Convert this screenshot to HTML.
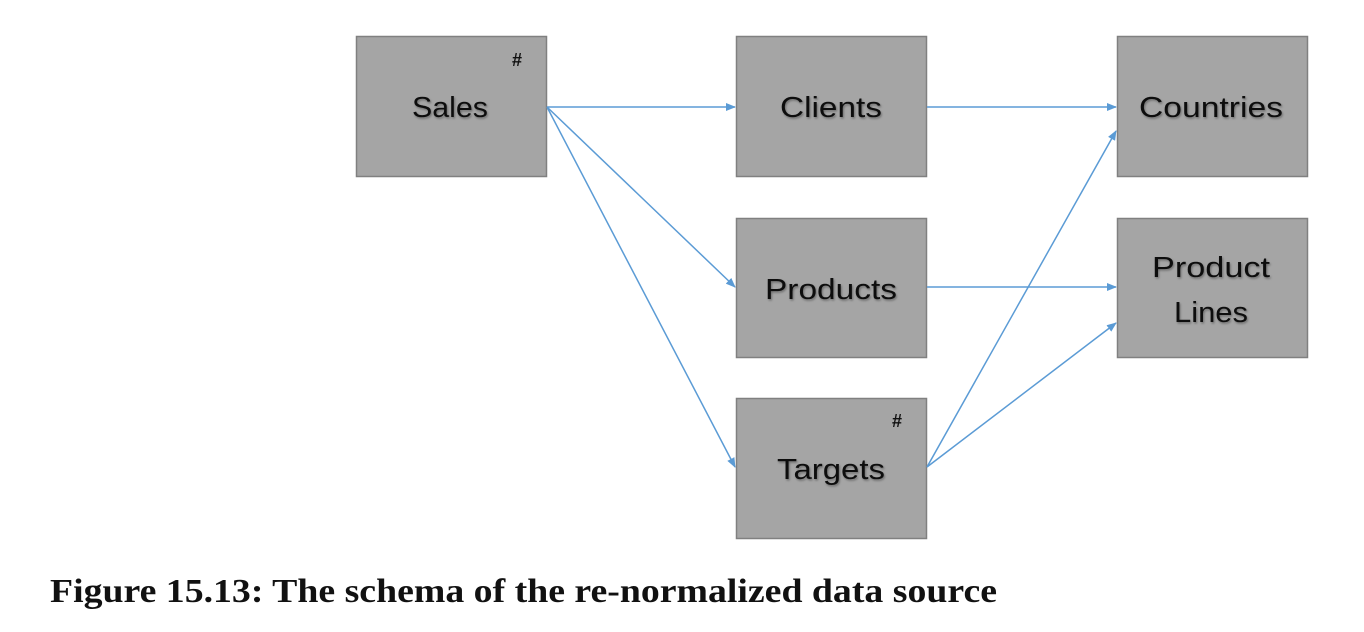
<!DOCTYPE html>
<html><head><meta charset="utf-8"><style>
html,body{margin:0;padding:0;background:#fff;width:1364px;height:632px;overflow:hidden}
</style></head><body>
<svg width="1364" height="632" xmlns="http://www.w3.org/2000/svg">
<defs>
<marker id="a" markerWidth="10" markerHeight="8" refX="9" refY="4" orient="auto" markerUnits="userSpaceOnUse">
<path d="M0,0 L10,4 L0,8 z" fill="#5b9bd5"/></marker>
<filter id="s"><feDropShadow dx="1" dy="1.5" stdDeviation="1" flood-color="#000" flood-opacity="0.35"/></filter>
</defs>
<g fill="#a5a5a5" stroke="#808080" stroke-width="1.5">
<rect x="356.5" y="36.5" width="190" height="140"/>
<rect x="736.5" y="36.5" width="190" height="140"/>
<rect x="1117.5" y="36.5" width="190" height="140"/>
<rect x="736.5" y="218.5" width="190" height="139"/>
<rect x="1117.5" y="218.5" width="190" height="139"/>
<rect x="736.5" y="398.5" width="190" height="140"/>
</g>
<g stroke="#5b9bd5" stroke-width="1.5" fill="none" marker-end="url(#a)">
<line x1="547" y1="107" x2="735" y2="107"/>
<line x1="547" y1="107" x2="735" y2="287"/>
<line x1="547" y1="107" x2="735" y2="467"/>
<line x1="927" y1="107" x2="1116" y2="107"/>
<line x1="927" y1="287" x2="1116" y2="287"/>
<line x1="927" y1="467" x2="1116" y2="131"/>
<line x1="927" y1="467" x2="1116" y2="323"/>
</g>
<g font-family="Liberation Sans, sans-serif" font-size="29" fill="#111" text-anchor="middle" filter="url(#s)">
<text x="450" y="117" textLength="76" lengthAdjust="spacingAndGlyphs">Sales</text>
<text x="831" y="117" textLength="102" lengthAdjust="spacingAndGlyphs">Clients</text>
<text x="1211" y="117" textLength="144" lengthAdjust="spacingAndGlyphs">Countries</text>
<text x="831" y="299" textLength="132" lengthAdjust="spacingAndGlyphs">Products</text>
<text x="1211" y="277" textLength="118" lengthAdjust="spacingAndGlyphs">Product</text>
<text x="1211" y="322" textLength="74" lengthAdjust="spacingAndGlyphs">Lines</text>
<text x="831" y="479" textLength="108" lengthAdjust="spacingAndGlyphs">Targets</text>
</g>
<g font-family="Liberation Sans, sans-serif" font-size="18" font-weight="bold" fill="#111" text-anchor="middle">
<text x="517" y="66">#</text>
<text x="897" y="427">#</text>
</g>
<text x="50" y="602" font-family="Liberation Serif, serif" font-weight="bold" font-size="34" fill="#111" textLength="947" lengthAdjust="spacingAndGlyphs">Figure 15.13: The schema of the re-normalized data source</text>
</svg>
</body></html>
